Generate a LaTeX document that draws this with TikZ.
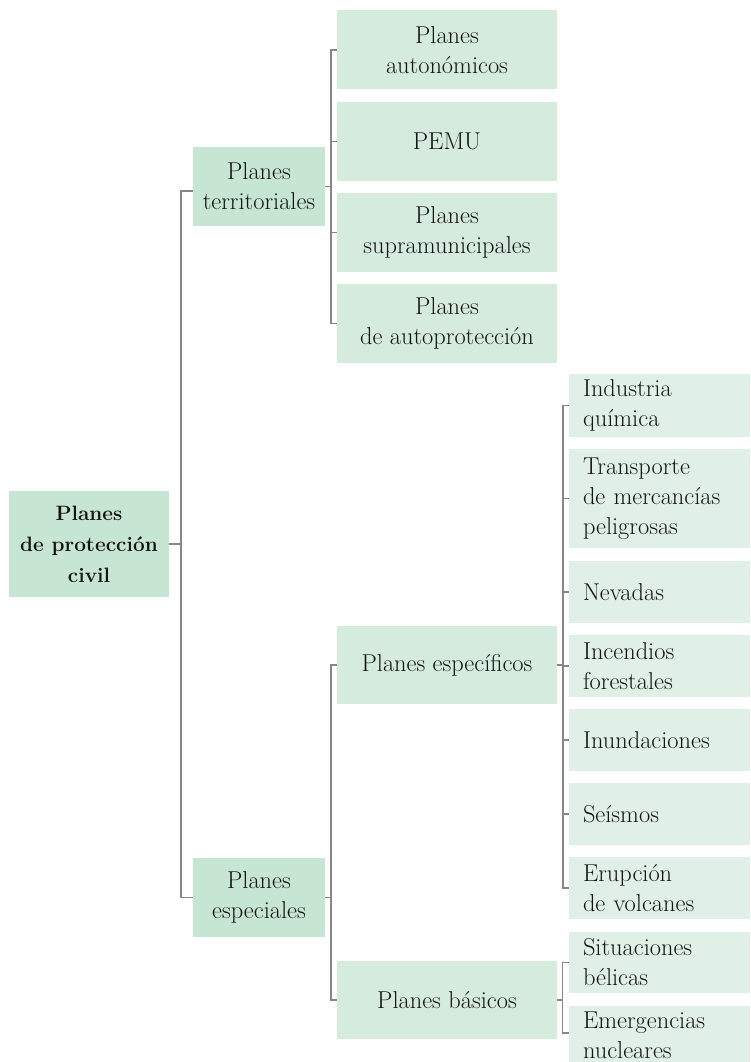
\documentclass[tikz,border=0pt]{standalone}
\usepackage{fontspec}
\usetikzlibrary{calc}
\definecolor{gA}{RGB}{199,229,211}
\definecolor{gB}{RGB}{213,235,221}
\definecolor{gC}{RGB}{224,240,230}
\definecolor{lineg}{RGB}{135,135,135}
\definecolor{txt}{RGB}{20,20,20}
\begin{document}
\begin{tikzpicture}[x=1pt,y=-1pt,
  base/.style={rectangle, inner sep=0pt, text=txt, align=center, anchor=center,
    font=\fontsize{24.4}{30}\selectfont},
  rootbox/.style={base, fill=gA, minimum width=160pt, minimum height=106pt,
    font=\bfseries\fontsize{20.8}{31}\selectfont},
  levtwo/.style={base, fill=gA, minimum width=132pt, minimum height=79pt},
  levthree/.style={base, fill=gB, minimum width=220pt, minimum height=79pt},
  levfour/.style={base, fill=gC, minimum height=62pt, text width=153pt,
    align=left, inner xsep=14pt},
  conn/.style={draw=lineg, line width=1.4pt}]
\useasboundingbox (0,0) rectangle (750,1062);
\clip (0,0) rectangle (750,1062);
% level 1
\node[rootbox] (root) at (89,544) {Planes\\de protección\\civil};
% level 2
\node[levtwo] (terr) at (259,186.5) {Planes\\territoriales};
\node[levtwo] (esp) at (259,897.5) {Planes\\especiales};
% level 3
\node[levthree] (auto) at (447,50) {Planes\\autonómicos};
\node[levthree] (pemu) at (447,141.5) {PEMU};
\node[levthree] (supra) at (447,232.5) {Planes\\supramunicipales};
\node[levthree] (autop) at (447,323.5) {Planes\\de autoprotección};
\node[levthree, minimum height=78pt] (espe) at (447,665) {Planes específicos};
\node[levthree, minimum height=78pt] (basic) at (447,1000) {Planes básicos};
% level 4
\node[levfour, minimum height=63pt] (ind) at (659.5,405.5) {Industria\\química};
\node[levfour, minimum height=99pt] (tra) at (659.5,498.5) {Transporte\\de mercancías\\peligrosas};
\node[levfour] (nev) at (659.5,592) {Nevadas};
\node[levfour] (inc) at (659.5,666) {Incendios\\forestales};
\node[levfour] (inu) at (659.5,740) {Inundaciones};
\node[levfour] (sei) at (659.5,814) {Seísmos};
\node[levfour] (eru) at (659.5,888) {Erupción\\de volcanes};
\node[levfour, minimum height=61pt] (sit) at (659.5,962.5) {Situaciones\\bélicas};
\node[levfour, minimum height=58pt] (eme) at (659.5,1035) {Emergencias\\nucleares};
% bracket x positions
\coordinate (tk) at (181,0);
\coordinate (bA) at (331,0);
\coordinate (bB) at (331,0);
\coordinate (bC) at (563,0);
\coordinate (bD) at (562.5,0);
% trunk
\draw[conn] (root.east) -- (root.east -| tk);
\draw[conn] ([yshift=-4.5pt]terr.west) -- ([yshift=-4.5pt]terr.west -| tk) -- (esp.west -| tk) -- (esp.west);
% territoriales bracket
\draw[conn] (terr.east) -- (terr.east -| bA);
\draw[conn] (auto.west) -- (auto.west -| bA) -- (autop.west -| bA) -- (autop.west);
\draw[conn] (pemu.west) -- (pemu.west -| bA);
\draw[conn] (supra.west) -- (supra.west -| bA);
% especiales bracket
\draw[conn] (esp.east) -- (esp.east -| bB);
\draw[conn] (espe.west) -- (espe.west -| bB) -- (basic.west -| bB) -- (basic.west);
% especificos bracket
\draw[conn] (espe.east) -- (espe.east -| bC);
\draw[conn] (ind.west) -- (ind.west -| bC) -- (eru.west -| bC) -- (eru.west);
\foreach \n in {tra,nev,inc,inu,sei} {\draw[conn] (\n.west) -- (\n.west -| bC);}
% basicos bracket
\draw[conn] (basic.east) -- (basic.east -| bD);
\draw[conn] (sit.west) -- (sit.west -| bD) -- ([yshift=2pt]eme.west -| bD) -- ([yshift=2pt]eme.west);
\end{tikzpicture}
\end{document}
